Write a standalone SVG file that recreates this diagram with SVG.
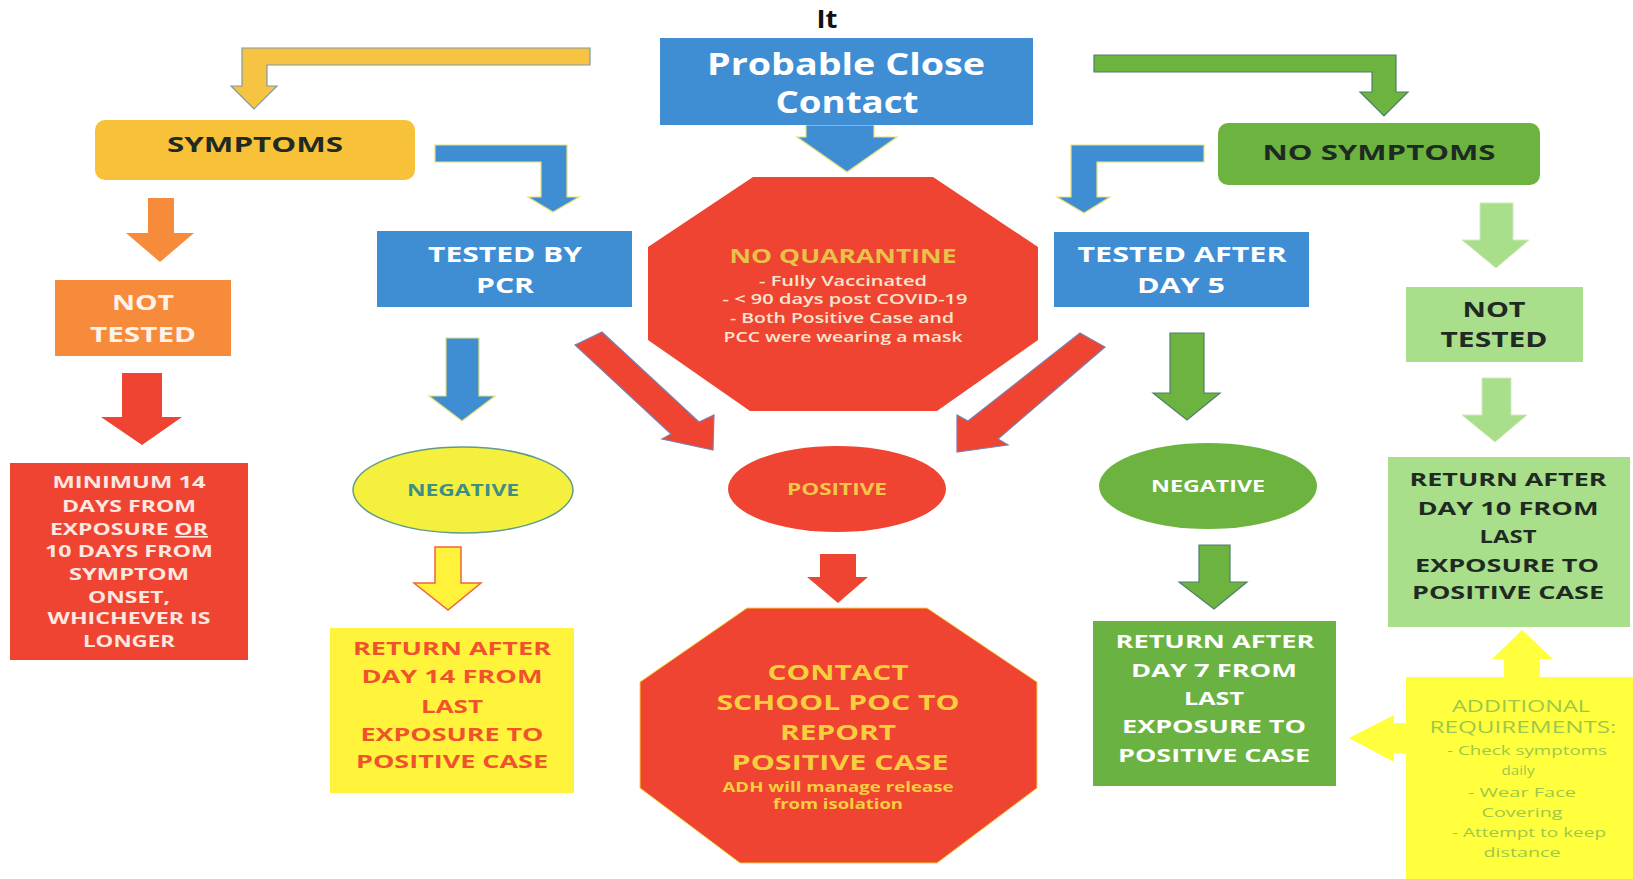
<svg xmlns="http://www.w3.org/2000/svg" width="1633" height="879" viewBox="0 0 1633 879">
<style>
text{font-family:"Open Sans","Liberation Sans",sans-serif;font-weight:bold;text-anchor:middle}
.w{fill:#ffffff}
.dk{fill:#1f2a22}
.blue{fill:#3f8ed3}
.red{fill:#ee4431}
.a-blue{fill:#3f8ed3;stroke:#e6df7a;stroke-width:1.2}
.a-yel{fill:#f6c342;stroke:#7f9aa6;stroke-width:1.2}
.a-grn{fill:#6db33f;stroke:#4f7f6a;stroke-width:1.2}
.a-lg{fill:#a9df8a;stroke:#cfe9bd;stroke-width:1}
.a-red{fill:#ee4431;stroke:#7a7fb0;stroke-width:1.2}
.reg{font-weight:normal}
.semi{font-weight:600}
</style>
<rect width="1633" height="879" fill="#ffffff"/>

<g id="connectors">
  <polygon class="a-blue" points="806,125 874,125 874,137 897,137 847,172 797,137 806,137"/>
  <polygon class="a-yel" points="590,48 242,48 242,86 231,86 254,109 277,86 267,86 267,65 590,65"/>
  <polygon class="a-blue" points="435,145 567,145 567,197 579,197 553,212 528,197 541,197 541,162 435,162"/>
  <polygon fill="#f68b3c" points="148,198 174,198 174,233 194,233 160,262 126,233 148,233"/>
  <polygon fill="#ee4431" points="122,373 162,373 162,417 182,417 142,445 101,417 122,417"/>
  <polygon class="a-blue" points="446,338 479,338 479,396 495,396 462,421 429,396 446,396"/>
  <polygon fill="#fff23a" stroke="#f0643a" stroke-width="1.5" points="435,547 461,547 461,583 481,583 448,610 414,583 435,583"/>
  <polygon class="a-red" points="575,345 602,332 699,422 714,415 713,450 662,439 671,434"/>
  <polygon class="a-red" points="1080,333 1105,347 998,439 1008,445 957,452 957,415 968,421"/>
  <polygon fill="#ee4431" points="820,554 856,554 856,577 868,577 838,603 807,577 820,577"/>
  <polygon class="a-grn" points="1094,55 1396,55 1396,92 1408,92 1384,116 1360,92 1372,92 1372,72 1094,72"/>
  <polygon class="a-blue" points="1204,145 1071,145 1071,197 1057,197 1084,213 1110,197 1097,197 1097,162 1204,162"/>
  <polygon class="a-lg" points="1480,203 1513,203 1513,240 1529,240 1496,268 1462,240 1480,240"/>
  <polygon class="a-lg" points="1482,378 1511,378 1511,415 1527,415 1495,442 1462,415 1482,415"/>
  <polygon class="a-grn" points="1170,333 1204,333 1204,393 1220,393 1187,420 1153,393 1170,393"/>
  <polygon class="a-grn" points="1199,545 1230,545 1230,582 1247,582 1214,609 1179,582 1199,582"/>
  <polygon fill="#ffff3d" points="1504,678 1504,659 1492,659 1522,630 1553,659 1540,659 1540,678"/>
  <polygon fill="#ffff3d" points="1407,723 1394,723 1394,715 1349,738 1394,762 1394,753 1407,753"/>
</g>

<g id="title-mark">
  <text x="827" y="28" font-size="25" fill="#111" textLength="21" lengthAdjust="spacingAndGlyphs">It</text>
</g>

<g id="probable-close-contact">
  <rect class="blue" x="660" y="38" width="373" height="87"/>
  <text class="w" x="846" y="75" font-size="30" textLength="278" lengthAdjust="spacingAndGlyphs">Probable Close</text>
  <text class="w" x="847" y="113" font-size="30" textLength="143" lengthAdjust="spacingAndGlyphs">Contact</text>
</g>

<g id="symptoms">
  <rect x="95" y="120" width="320" height="60" rx="10" fill="#f8c13a"/>
  <text class="dk" x="255" y="152" font-size="22" textLength="176" lengthAdjust="spacingAndGlyphs">SYMPTOMS</text>
</g>

<g id="tested-by-pcr">
  <rect class="blue" x="377" y="231" width="255" height="76"/>
  <text class="w" x="505" y="262" font-size="22" textLength="154" lengthAdjust="spacingAndGlyphs">TESTED BY</text>
  <text class="w" x="505" y="293" font-size="22" textLength="58" lengthAdjust="spacingAndGlyphs">PCR</text>
</g>

<g id="not-tested-symptoms">
  <rect x="55" y="280" width="176" height="76" fill="#f68b3c"/>
  <text x="143" y="310" font-size="22" fill="#fdf3ea" textLength="62" lengthAdjust="spacingAndGlyphs">NOT</text>
  <text x="143" y="342" font-size="22" fill="#fdf3ea" textLength="106" lengthAdjust="spacingAndGlyphs">TESTED</text>
</g>

<g id="minimum-14-days">
  <rect class="red" x="10" y="463" width="238" height="197"/>
  <text x="129" y="488" font-size="16.5" fill="#fce8e0" textLength="153" lengthAdjust="spacingAndGlyphs">MINIMUM 14</text>
  <text x="129" y="512" font-size="16.5" fill="#fce8e0" textLength="134" lengthAdjust="spacingAndGlyphs">DAYS FROM</text>
  <text x="129" y="535" font-size="16.5" fill="#fce8e0" textLength="158" lengthAdjust="spacingAndGlyphs">EXPOSURE <tspan text-decoration="underline">OR</tspan></text>
  <text x="129" y="557" font-size="16.5" fill="#fce8e0" textLength="168" lengthAdjust="spacingAndGlyphs">10 DAYS FROM</text>
  <text x="129" y="580" font-size="16.5" fill="#fce8e0" textLength="120" lengthAdjust="spacingAndGlyphs">SYMPTOM</text>
  <text x="129" y="603" font-size="16.5" fill="#fce8e0" textLength="82" lengthAdjust="spacingAndGlyphs">ONSET,</text>
  <text x="129" y="624" font-size="16.5" fill="#fce8e0" textLength="163" lengthAdjust="spacingAndGlyphs">WHICHEVER IS</text>
  <text x="129" y="647" font-size="16.5" fill="#fce8e0" textLength="92" lengthAdjust="spacingAndGlyphs">LONGER</text>
</g>

<g id="negative-pcr">
  <ellipse cx="463" cy="490" rx="110" ry="43" fill="#f5f03e" stroke="#5f9c8c" stroke-width="1.5"/>
  <text x="463" y="496" font-size="15.5" fill="#3e8e86" textLength="112" lengthAdjust="spacingAndGlyphs">NEGATIVE</text>
</g>

<g id="return-day-14">
  <rect x="330" y="628" width="244" height="165" fill="#fff33b"/>
  <text x="452" y="655" font-size="18.5" fill="#f0522e" textLength="198" lengthAdjust="spacingAndGlyphs">RETURN AFTER</text>
  <text x="452" y="683" font-size="18.5" fill="#f0522e" textLength="181" lengthAdjust="spacingAndGlyphs">DAY 14 FROM</text>
  <text x="452" y="713" font-size="18.5" fill="#f0522e" textLength="62" lengthAdjust="spacingAndGlyphs">LAST</text>
  <text x="452" y="741" font-size="18.5" fill="#f0522e" textLength="183" lengthAdjust="spacingAndGlyphs">EXPOSURE TO</text>
  <text x="452" y="768" font-size="18.5" fill="#f0522e" textLength="192" lengthAdjust="spacingAndGlyphs">POSITIVE CASE</text>
</g>

<g id="no-quarantine">
  <polygon class="red" points="753,177 933,177 1038,247 1038,340 937,411 750,411 648,340 648,247"/>
  <text x="843" y="263" font-size="20" fill="#e9c24a" textLength="227" lengthAdjust="spacingAndGlyphs">NO QUARANTINE</text>
  <text class="semi" x="843" y="286" font-size="14" fill="#f7e6cf" textLength="168" lengthAdjust="spacingAndGlyphs">- Fully Vaccinated</text>
  <text class="semi" x="845" y="304" font-size="14" fill="#f7e6cf" textLength="245" lengthAdjust="spacingAndGlyphs">- &lt; 90 days post COVID-19</text>
  <text class="semi" x="842" y="323" font-size="14" fill="#f7e6cf" textLength="224" lengthAdjust="spacingAndGlyphs">- Both Positive Case and</text>
  <text class="semi" x="843" y="342" font-size="14" fill="#f7e6cf" textLength="239" lengthAdjust="spacingAndGlyphs">PCC were wearing a mask</text>
</g>

<g id="positive">
  <ellipse class="red" cx="837" cy="489" rx="109" ry="43"/>
  <text x="837" y="495" font-size="15.5" fill="#f3c84a" textLength="100" lengthAdjust="spacingAndGlyphs">POSITIVE</text>
</g>

<g id="contact-school-poc">
  <polygon class="red" stroke="#f3d23a" stroke-width="1" points="747,608 927,608 1037,682 1037,788 937,863 740,863 640,788 640,682"/>
  <text x="838" y="680" font-size="20.5" fill="#f6cf3e" textLength="141" lengthAdjust="spacingAndGlyphs">CONTACT</text>
  <text x="838" y="710" font-size="20.5" fill="#f6cf3e" textLength="243" lengthAdjust="spacingAndGlyphs">SCHOOL POC TO</text>
  <text x="838" y="740" font-size="20.5" fill="#f6cf3e" textLength="116" lengthAdjust="spacingAndGlyphs">REPORT</text>
  <text x="840" y="770" font-size="20.5" fill="#f6cf3e" textLength="217" lengthAdjust="spacingAndGlyphs">POSITIVE CASE</text>
  <text x="838" y="792" font-size="14" fill="#f6cf3e" textLength="231" lengthAdjust="spacingAndGlyphs">ADH will manage release</text>
  <text x="838" y="809" font-size="14" fill="#f6cf3e" textLength="130" lengthAdjust="spacingAndGlyphs">from isolation</text>
</g>

<g id="no-symptoms">
  <rect x="1218" y="123" width="322" height="62" rx="10" fill="#6db33f"/>
  <text class="dk" x="1379" y="160" font-size="22" textLength="233" lengthAdjust="spacingAndGlyphs">NO SYMPTOMS</text>
</g>

<g id="tested-after-day-5">
  <rect class="blue" x="1054" y="232" width="255" height="75"/>
  <text class="w" x="1182" y="262" font-size="22" textLength="209" lengthAdjust="spacingAndGlyphs">TESTED AFTER</text>
  <text class="w" x="1181" y="293" font-size="22" textLength="88" lengthAdjust="spacingAndGlyphs">DAY 5</text>
</g>

<g id="not-tested-no-symptoms">
  <rect x="1406" y="287" width="177" height="75" fill="#a9df8a"/>
  <text class="dk" x="1494" y="317" font-size="22" textLength="63" lengthAdjust="spacingAndGlyphs">NOT</text>
  <text class="dk" x="1494" y="347" font-size="22" textLength="107" lengthAdjust="spacingAndGlyphs">TESTED</text>
</g>

<g id="negative-day-5">
  <ellipse cx="1208" cy="486" rx="109" ry="43" fill="#6db33f"/>
  <text class="w" x="1208" y="492" font-size="15.5" textLength="114" lengthAdjust="spacingAndGlyphs">NEGATIVE</text>
</g>

<g id="return-day-7">
  <rect x="1093" y="621" width="243" height="165" fill="#6ab241"/>
  <text class="w" x="1215" y="648" font-size="18.5" textLength="199" lengthAdjust="spacingAndGlyphs">RETURN AFTER</text>
  <text class="w" x="1214" y="677" font-size="18.5" textLength="166" lengthAdjust="spacingAndGlyphs">DAY 7 FROM</text>
  <text class="w" x="1214" y="705" font-size="18.5" textLength="60" lengthAdjust="spacingAndGlyphs">LAST</text>
  <text class="w" x="1214" y="733" font-size="18.5" textLength="184" lengthAdjust="spacingAndGlyphs">EXPOSURE TO</text>
  <text class="w" x="1214" y="762" font-size="18.5" textLength="192" lengthAdjust="spacingAndGlyphs">POSITIVE CASE</text>
</g>

<g id="return-day-10">
  <rect x="1388" y="457" width="242" height="170" fill="#a9df8a"/>
  <text class="dk" x="1508" y="486" font-size="18.5" textLength="197" lengthAdjust="spacingAndGlyphs">RETURN AFTER</text>
  <text class="dk" x="1508" y="515" font-size="18.5" textLength="181" lengthAdjust="spacingAndGlyphs">DAY 10 FROM</text>
  <text class="dk" x="1508" y="543" font-size="18.5" textLength="57" lengthAdjust="spacingAndGlyphs">LAST</text>
  <text class="dk" x="1507" y="572" font-size="18.5" textLength="184" lengthAdjust="spacingAndGlyphs">EXPOSURE TO</text>
  <text class="dk" x="1508" y="599" font-size="18.5" textLength="192" lengthAdjust="spacingAndGlyphs">POSITIVE CASE</text>
</g>

<g id="additional-requirements">
  <rect x="1406" y="677" width="227" height="202" fill="#ffff3d"/>
  <text class="reg" x="1521" y="712" font-size="16" fill="#9cc84a" textLength="138" lengthAdjust="spacingAndGlyphs">ADDITIONAL</text>
  <text class="reg" x="1523" y="733" font-size="16" fill="#9cc84a" textLength="187" lengthAdjust="spacingAndGlyphs">REQUIREMENTS:</text>
  <text class="reg" x="1527" y="755" font-size="13.5" fill="#9cc84a" textLength="160" lengthAdjust="spacingAndGlyphs">- Check symptoms</text>
  <text class="reg" x="1518" y="775" font-size="13.5" fill="#9cc84a" textLength="33" lengthAdjust="spacingAndGlyphs">daily</text>
  <text class="reg" x="1522" y="797" font-size="13.5" fill="#9cc84a" textLength="108" lengthAdjust="spacingAndGlyphs">- Wear Face</text>
  <text class="reg" x="1522" y="817" font-size="13.5" fill="#9cc84a" textLength="81" lengthAdjust="spacingAndGlyphs">Covering</text>
  <text class="reg" x="1529" y="837" font-size="13.5" fill="#9cc84a" textLength="154" lengthAdjust="spacingAndGlyphs">- Attempt to keep</text>
  <text class="reg" x="1522" y="857" font-size="13.5" fill="#9cc84a" textLength="77" lengthAdjust="spacingAndGlyphs">distance</text>
</g>
</svg>
